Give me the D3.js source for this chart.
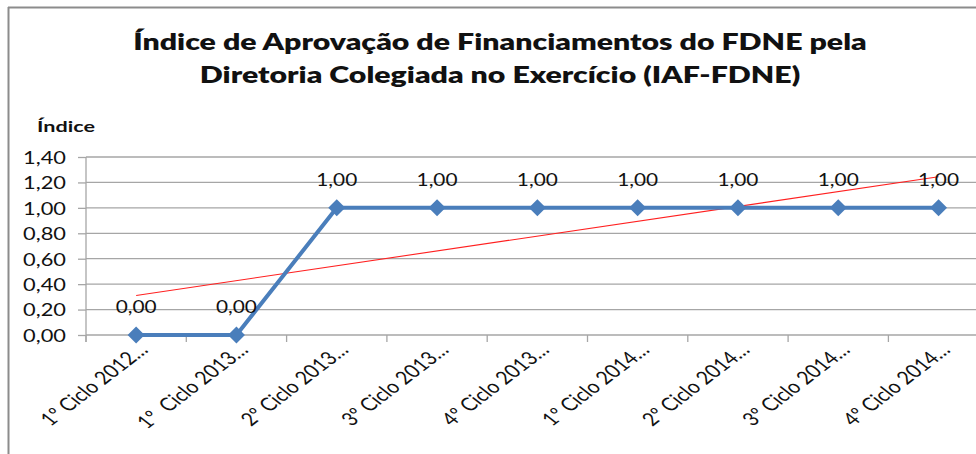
<!DOCTYPE html>
<html><head><meta charset="utf-8">
<script src="https://cdn.jsdelivr.net/npm/d3@7"></script>
<style>
html,body{margin:0;padding:0;background:#fff;}
svg{display:block;}
text{font-family:Lato,"Open Sans",sans-serif;}
</style></head>
<body>
<svg id="c" width="976" height="454"></svg>
<script>
const titleLines = ["Índice de Aprovação de Financiamentos do FDNE pela", "Diretoria Colegiada no Exercício (IAF-FDNE)"];
const yAxisTitle = "Índice";
const categories = ["1º Ciclo 2012…", "1º  Ciclo 2013…", "2º Ciclo 2013…", "3º Ciclo 2013…", "4º Ciclo 2013…", "1º Ciclo 2014…", "2º Ciclo 2014…", "3º Ciclo 2014…", "4º Ciclo 2014…"];
const values = [0, 0, 1, 1, 1, 1, 1, 1, 1];
const yTicks = [0, 0.2, 0.4, 0.6, 0.8, 1.0, 1.2, 1.4];

const svg = d3.select("#c");
const fmt = v => d3.format(".2f")(v).replace(".", ",");

const pLeft = 86, pTop = 157, pBottom = 335, band = 100.3;
const x = d3.scaleBand().domain(categories).range([pLeft, pLeft + band * categories.length]).padding(0);
const y = d3.scaleLinear().domain([0, 1.4]).range([pBottom, pTop]);
const cx = d => x(d) + x.bandwidth() / 2;

function fitWidth(sel, target, ax) {
  sel.each(function() {
    const w = this.getComputedTextLength();
    const s = target / w;
    d3.select(this).attr("transform", `translate(${ax},0) scale(${s},1) translate(${-ax},0)`);
  });
}

// border
svg.append("line").attr("x1", 8.5).attr("x2", 8.5).attr("y1", 7).attr("y2", 454).attr("stroke", "#8c8c8c").attr("stroke-width", 2);
svg.append("line").attr("x1", 8).attr("x2", 976).attr("y1", 7.5).attr("y2", 7.5).attr("stroke", "#8c8c8c").attr("stroke-width", 2);

// title
const t1 = svg.append("text").attr("x", 500).attr("y", 50).attr("text-anchor", "middle")
  .attr("font-weight", 800).attr("font-size", 22.5).attr("fill", "#111").text(titleLines[0]);
const w1 = t1.node().getComputedTextLength();
const sT = 734 / w1;
t1.attr("transform", `translate(500,0) scale(${sT},1) translate(-500,0)`);
svg.append("text").attr("x", 500).attr("y", 83).attr("text-anchor", "middle")
  .attr("font-weight", 800).attr("font-size", 22.5).attr("fill", "#111").text(titleLines[1])
  .attr("transform", `translate(500,0) scale(${sT},1) translate(-500,0)`);

// y axis title
const yt = svg.append("text").attr("x", 37).attr("y", 132).attr("font-weight", 700).attr("font-size", 15.5).attr("fill", "#111").text(yAxisTitle);
fitWidth(yt, 58, 37);

// gridlines
svg.append("g").selectAll("line").data(yTicks.filter(d => d > 0)).join("line")
  .attr("x1", pLeft).attr("x2", 976).attr("y1", d => y(d)).attr("y2", d => y(d))
  .attr("stroke", "#a6a6a6").attr("stroke-width", 1.3);

// y axis
const yAxis = svg.append("g").attr("transform", `translate(${pLeft},0)`)
  .call(d3.axisLeft(y).tickValues(yTicks).tickFormat(fmt).tickSize(8).tickPadding(0));
yAxis.select(".domain").remove();
yAxis.selectAll(".tick line").attr("stroke", "#a6a6a6").attr("stroke-width", 1.3);
yAxis.selectAll(".tick text").attr("font-family", "Lato").attr("font-size", 17.5).attr("fill", "#111")
  .attr("x", 66 - pLeft).attr("dy", "0.36em");
fitWidth(yAxis.selectAll(".tick text"), 43, 66 - pLeft);
svg.append("line").attr("x1", pLeft).attr("x2", pLeft).attr("y1", pTop).attr("y2", pBottom + 7)
  .attr("stroke", "#a6a6a6").attr("stroke-width", 1.3);

// x axis
svg.append("line").attr("x1", pLeft).attr("x2", 976).attr("y1", pBottom).attr("y2", pBottom)
  .attr("stroke", "#a6a6a6").attr("stroke-width", 1.3);
svg.append("g").selectAll("line").data(d3.range(categories.length + 1)).join("line")
  .attr("x1", i => pLeft + i * x.bandwidth()).attr("x2", i => pLeft + i * x.bandwidth())
  .attr("y1", pBottom).attr("y2", pBottom + 7).attr("stroke", "#a6a6a6").attr("stroke-width", 1.3);

// x labels (rotated, horizontally stretched like the reference)
const xl = svg.append("g").selectAll("text").data(categories).join("text")
  .attr("text-anchor", "end").attr("font-size", 18.5).attr("fill", "#111")
  .style("white-space", "pre")
  .attr("transform", d => `translate(${cx(d) + 13},${pBottom + 16}) scale(1.3,1) rotate(-45)`)
  .text(d => d);
xl.each(function() {
  const w = this.getComputedTextLength();
  d3.select(this).attr("textLength", w * 0.86).attr("lengthAdjust", "spacingAndGlyphs");
});

// trend line (linear least squares on the series)
const n = values.length;
const xs = d3.range(1, n + 1);
const mx = d3.mean(xs), my = d3.mean(values);
const slope = d3.sum(xs.map((xi, i) => (xi - mx) * (values[i] - my))) / d3.sum(xs.map(xi => (xi - mx) ** 2));
const icpt = my - slope * mx;
svg.append("line")
  .attr("x1", cx(categories[0])).attr("y1", y(icpt + slope * 1))
  .attr("x2", cx(categories[n - 1])).attr("y2", y(icpt + slope * n))
  .attr("stroke", "#ff2020").attr("stroke-width", 1.1);

// series line
svg.append("path").datum(values)
  .attr("fill", "none").attr("stroke", "#4a7ebb").attr("stroke-width", 4).attr("stroke-linejoin", "round")
  .attr("d", d3.line().x((d, i) => cx(categories[i])).y(d => y(d)));

// markers
svg.append("g").selectAll("path").data(values).join("path")
  .attr("d", "M0,-8.5L8.5,0L0,8.5L-8.5,0Z")
  .attr("transform", (d, i) => `translate(${cx(categories[i])},${y(d)})`)
  .attr("fill", "#4a7ebb");

// data labels
const dl = svg.append("g").selectAll("text").data(values).join("text")
  .attr("text-anchor", "middle").attr("font-size", 17.5).attr("fill", "#111")
  .attr("x", (d, i) => cx(categories[i])).attr("y", d => y(d) - 22)
  .text(d => fmt(d));
dl.each(function(d, i) { fitWidth(d3.select(this), 41, cx(categories[i])); });
</script>
</body></html>
